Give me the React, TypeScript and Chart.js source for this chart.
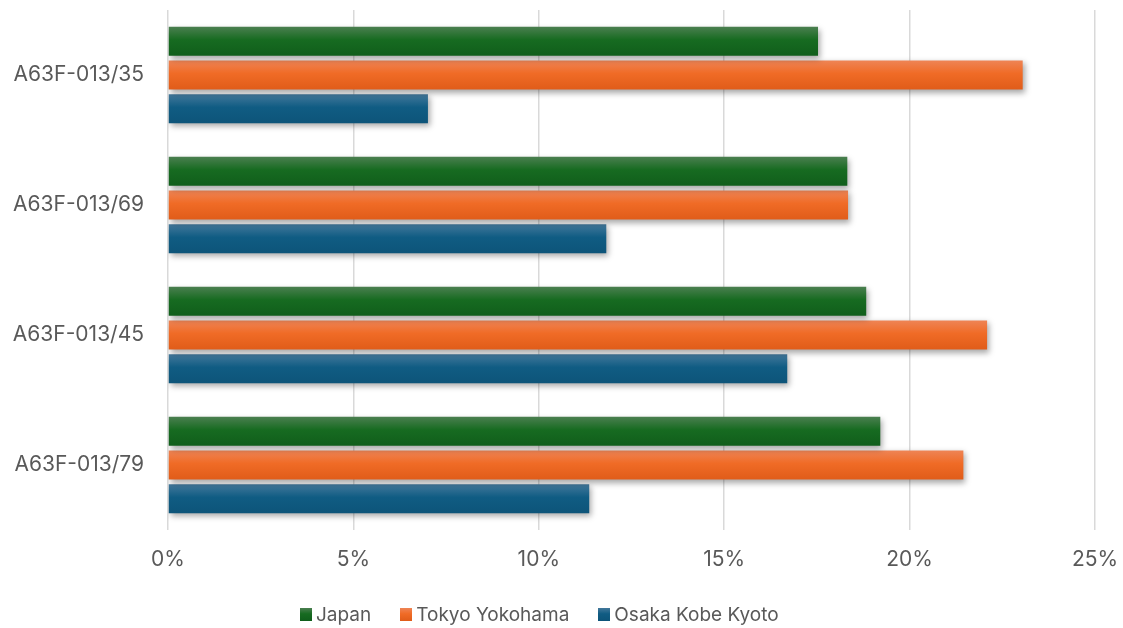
import React, { useEffect, useRef } from "react";
import { Chart, registerables } from "chart.js";

Chart.register(...registerables);

const categories = ["A63F-013/35", "A63F-013/69", "A63F-013/45", "A63F-013/79"];
const japan = [17.53, 18.32, 18.83, 19.21];
const tokyo = [23.05, 18.34, 22.09, 21.45];
const osaka = [7.01, 11.82, 16.7, 11.36];
const seriesNames = ["Japan", "Tokyo Yokohama", "Osaka Kobe Kyoto"];
const xTicks = [0, 5, 10, 15, 20, 25];

const palettes = [
  { top: "#4b7f50", mid: "#176b21", bottom: "#105e1b" },
  { top: "#ee8455", mid: "#f06b26", bottom: "#e05c19" },
  { top: "#43789b", mid: "#105c83", bottom: "#0d5479" },
];

const FONT = "Inter, 'Open Sans', 'Liberation Sans', sans-serif";
const TEXT = "#595959";

const gradientPlugin = {
  id: "barGradient",
  beforeDatasetDraw(chart: any, args: any) {
    const ctx = chart.ctx;
    const meta = args.meta;
    const pal = palettes[args.index];
    meta.data.forEach((el: any) => {
      const h = el.height;
      const top = el.y - h / 2;
      const g = ctx.createLinearGradient(0, top, 0, top + h);
      g.addColorStop(0, pal.top);
      g.addColorStop(0.45, pal.mid);
      g.addColorStop(1, pal.bottom);
      if (el.options) el.options.backgroundColor = g;
    });
    ctx.save();
    ctx.shadowColor = "rgba(0,0,0,0.35)";
    ctx.shadowBlur = 6;
    ctx.shadowOffsetX = 2;
    ctx.shadowOffsetY = 3;
  },
  afterDatasetDraw(chart: any) {
    chart.ctx.restore();
  },
};

export default function App() {
  const ref = useRef<HTMLCanvasElement | null>(null);
  useEffect(() => {
    if (!ref.current) return;
    const values = [japan, tokyo, osaka];
    const chart = new Chart(ref.current, {
      type: "bar",
      data: {
        labels: categories,
        datasets: values.map((v, i) => ({
          label: seriesNames[i],
          data: v,
          backgroundColor: () => palettes[i].mid,
          borderWidth: 0,
          categoryPercentage: 0.78,
          barPercentage: 0.86,
        })),
      },
      options: {
        indexAxis: "y",
        animation: false,
        responsive: false,
        maintainAspectRatio: false,
        layout: { padding: { top: 10, right: 28, left: 10, bottom: 0 } },
        scales: {
          x: {
            min: 0,
            max: 25,
            afterBuildTicks: (axis: any) => {
              axis.ticks = xTicks.map((v) => ({ value: v }));
            },
            afterFit: (axis: any) => {
              axis.height = 98;
              axis.paddingLeft = 0;
              axis.paddingRight = 0;
            },
            ticks: {
              callback: (v: any) => v + "%",
              color: TEXT,
              font: { family: FONT, size: 21 },
              padding: 17,
              maxRotation: 0,
            },
            grid: { color: "#d9d9d9", lineWidth: 1.5, drawTicks: false },
            border: { display: false },
          },
          y: {
            afterFit: (axis: any) => {
              axis.width = 158;
              axis.paddingTop = 0;
              axis.paddingBottom = 0;
            },
            ticks: {
              color: TEXT,
              font: { family: FONT, size: 21 },
              padding: 24,
            },
            grid: { display: false, drawTicks: false },
            border: { display: false },
          },
        },
        plugins: {
          legend: { display: false },
          tooltip: { enabled: false },
        },
      },
      plugins: [gradientPlugin],
    } as any);
    return () => chart.destroy();
  }, []);

  const legendItem = (name: string, i: number) => (
    <div key={name} style={{ display: "flex", alignItems: "center", marginRight: i < 2 ? 29 : 0 }}>
      <span
        style={{
          display: "inline-block",
          width: 12,
          height: 13,
          marginRight: 4,
          background: `linear-gradient(${palettes[i].top}, ${palettes[i].mid} 45%, ${palettes[i].bottom})`,
        }}
      />
      <span>{name}</span>
    </div>
  );

  return (
    <div style={{ position: "absolute", left: 0, top: 0, width: 1123, height: 628, background: "#fff" }}>
      <canvas ref={ref} width={1123} height={628} style={{ display: "block" }} />
      <div
        style={{
          position: "absolute",
          left: 300,
          top: 601,
          height: 26,
          display: "flex",
          alignItems: "center",
          fontFamily: FONT,
          fontSize: 19,
          color: TEXT,
          whiteSpace: "nowrap",
        }}
      >
        {seriesNames.map((n, i) => legendItem(n, i))}
      </div>
    </div>
  );
}
